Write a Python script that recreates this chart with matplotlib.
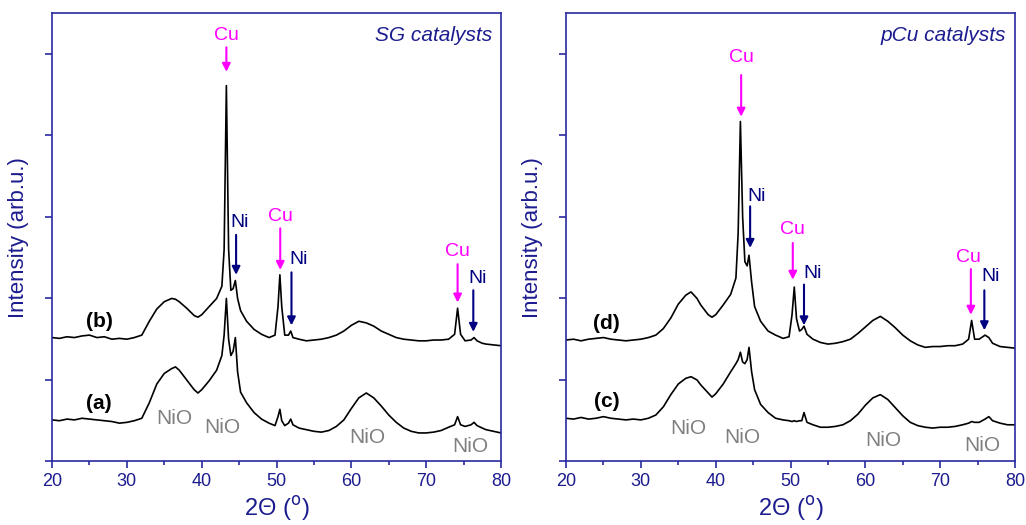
import numpy as np
import matplotlib
matplotlib.use("Agg")
import matplotlib.pyplot as plt

plt.rcParams["font.family"] = ["Liberation Sans", "DejaVu Sans"]

NAVY = "#1c1c8f"
SPINE = "#2a2aa0"
MAGENTA = "#ff00ff"
NI_COL = "#000080"
GRAY = "#808080"

# --- SG catalysts ---
x_sg = [20, 21, 22, 23, 24, 25, 26, 27, 28, 29, 30, 31, 32, 33, 34, 35, 36, 36.5, 37, 38, 39,
        39.5, 40, 41, 42, 42.7, 43.0, 43.3, 43.6, 43.9, 44.2, 44.5, 44.8, 45.2, 46, 47, 48, 49,
        49.8, 50.2, 50.45, 50.7, 51.1, 51.6, 51.9, 52.2, 53, 54, 55, 56, 57, 58, 59, 60, 61, 62,
        63, 64, 65, 66, 67, 68, 69, 70, 71, 72, 73, 73.8, 74.2, 74.6, 75.2, 76, 76.4, 76.8, 77.5,
        78, 79, 80]
sg_b = [1.52, 1.51, 1.53, 1.52, 1.54, 1.55, 1.52, 1.53, 1.50, 1.51, 1.50, 1.52, 1.55, 1.72, 1.87,
        1.96, 2.00, 1.99, 1.96, 1.88, 1.79, 1.77, 1.80, 1.90, 2.00, 2.15, 2.60, 4.61, 2.60, 2.10,
        2.12, 2.22, 2.00, 1.85, 1.72, 1.62, 1.56, 1.52, 1.55, 1.90, 2.29, 1.90, 1.55, 1.55, 1.60,
        1.52, 1.50, 1.48, 1.49, 1.50, 1.52, 1.55, 1.60, 1.67, 1.72, 1.70, 1.66, 1.60, 1.56, 1.52,
        1.50, 1.49, 1.48, 1.48, 1.49, 1.49, 1.50, 1.56, 1.88, 1.56, 1.48, 1.49, 1.52, 1.48, 1.45,
        1.44, 1.43, 1.42]
sg_a = [0.51, 0.50, 0.52, 0.51, 0.53, 0.52, 0.51, 0.50, 0.49, 0.47, 0.48, 0.50, 0.53, 0.72, 0.95,
        1.08, 1.14, 1.16, 1.12, 1.00, 0.88, 0.84, 0.88, 0.99, 1.12, 1.30, 1.55, 2.00, 1.50, 1.30,
        1.35, 1.52, 1.10, 0.85, 0.72, 0.60, 0.52, 0.47, 0.44, 0.55, 0.64, 0.50, 0.44, 0.47, 0.52,
        0.45, 0.41, 0.39, 0.37, 0.36, 0.38, 0.43, 0.51, 0.65, 0.78, 0.84, 0.78, 0.68, 0.57, 0.48,
        0.41, 0.37, 0.35, 0.35, 0.36, 0.38, 0.42, 0.45, 0.55, 0.45, 0.43, 0.45, 0.48, 0.44, 0.41,
        0.39, 0.37, 0.35]

# --- pCu catalysts ---
x_pcu = [20, 21, 22, 23, 24, 25, 26, 27, 28, 29, 30, 31, 32, 33, 34, 35, 36, 36.7, 37.5, 38, 39,
         39.5, 40, 41, 42, 42.7, 43.0, 43.3, 43.6, 43.9, 44.2, 44.45, 44.8, 45.2, 46, 47, 48, 49,
         49.8, 50.2, 50.5, 50.8, 51.2, 51.5, 51.8, 52.2, 53, 54, 55, 56, 57, 58, 59, 60, 61, 62,
         63, 64, 65, 66, 67, 68, 69, 70, 71, 72, 73, 73.8, 74.2, 74.6, 75.2, 76, 76.5, 77, 78, 79, 80]
pcu_d = [1.49, 1.50, 1.48, 1.50, 1.51, 1.52, 1.50, 1.49, 1.48, 1.49, 1.50, 1.52, 1.55, 1.63, 1.76,
         1.93, 2.04, 2.08, 2.00, 1.92, 1.80, 1.77, 1.80, 1.92, 2.05, 2.25, 2.80, 4.17, 3.00, 2.45,
         2.40, 2.53, 2.20, 1.90, 1.72, 1.60, 1.55, 1.51, 1.53, 1.80, 2.14, 1.75, 1.60, 1.62, 1.66,
         1.56, 1.50, 1.46, 1.44, 1.45, 1.47, 1.50, 1.57, 1.65, 1.73, 1.78, 1.72, 1.64, 1.55, 1.48,
         1.43, 1.40, 1.41, 1.41, 1.42, 1.42, 1.44, 1.50, 1.73, 1.50, 1.50, 1.55, 1.52, 1.45, 1.41,
         1.40, 1.39]
pcu_c = [0.53, 0.52, 0.54, 0.52, 0.53, 0.55, 0.53, 0.52, 0.51, 0.52, 0.51, 0.53, 0.57, 0.67, 0.82,
         0.95, 1.02, 1.04, 1.00, 0.94, 0.84, 0.79, 0.83, 0.95, 1.10, 1.20, 1.25, 1.34, 1.22, 1.20,
         1.25, 1.40, 1.10, 0.88, 0.70, 0.60, 0.53, 0.51, 0.50, 0.49, 0.50, 0.49, 0.50, 0.50, 0.60,
         0.48, 0.45, 0.42, 0.42, 0.43, 0.45, 0.50, 0.58, 0.69, 0.78, 0.82, 0.76, 0.66, 0.56, 0.48,
         0.44, 0.42, 0.41, 0.42, 0.42, 0.43, 0.45, 0.47, 0.49, 0.48, 0.48, 0.52, 0.55, 0.50, 0.47,
         0.45, 0.45]

# arrows: (label, x, text_y, tail_y, head_y, text_dx)
arrows_sg = [("Cu", 43.3, 5.23, 5.08, 4.78, 0.0),
             ("Ni", 44.6, 2.93, 2.78, 2.29, 0.5),
             ("Cu", 50.5, 3.00, 2.86, 2.35, 0.0),
             ("Ni", 52.0, 2.48, 2.32, 1.67, 0.9),
             ("Cu", 74.2, 2.57, 2.42, 1.95, 0.0),
             ("Ni", 76.3, 2.25, 2.10, 1.59, 0.6)]
arrows_pcu = [("Cu", 43.4, 4.96, 4.74, 4.23, 0.0),
              ("Ni", 44.6, 3.25, 3.13, 2.62, 0.9),
              ("Cu", 50.3, 2.84, 2.68, 2.23, 0.0),
              ("Ni", 51.8, 2.31, 2.17, 1.67, 1.1),
              ("Cu", 74.1, 2.50, 2.36, 1.80, -0.3),
              ("Ni", 75.9, 2.27, 2.10, 1.61, 0.8)]

nio_sg = [(36.4, 0.53), (42.8, 0.42), (62.2, 0.29), (75.9, 0.18)]
nio_pcu = [(36.3, 0.41), (43.5, 0.30), (62.4, 0.26), (75.6, 0.20)]

fig = plt.figure(figsize=(10.26, 5.25), dpi=100)
ax1 = fig.add_axes([0.0507, 0.121, 0.4376, 0.854])
ax2 = fig.add_axes([0.5517, 0.121, 0.4376, 0.854])


def setup(ax):
    ax.set_xlim(20, 80)
    ax.set_ylim(0, 5.5)
    ax.set_xticks(np.arange(20, 81, 10))
    ax.set_xticks(np.arange(25, 80, 10), minor=True)
    ax.set_yticks(np.arange(0, 6, 1))
    ax.set_yticklabels([])
    for s in ax.spines.values():
        s.set_color(SPINE)
        s.set_linewidth(1.2)
    ax.tick_params(which="both", direction="out", colors=SPINE, labelcolor=NAVY,
                   labelsize=13, width=1.2)
    ax.tick_params(which="major", length=5)
    ax.tick_params(which="minor", length=3)
    ax.set_xlabel("2\u0398 ($^{\\rm o}$)", color=NAVY, fontsize=17, labelpad=3)
    ax.set_ylabel("Intensity (arb.u.)", color=NAVY, fontsize=16, labelpad=8)


def draw(ax, x, top, bot, lab_top, lab_bot, arrows, nio, title, lab_x):
    setup(ax)
    ax.plot(x, top, color="black", lw=1.2)
    ax.plot(x, bot, color="black", lw=1.2)
    ax.text(lab_x, top[0] + 0.2, lab_top, fontsize=15, fontweight="bold", ha="center", va="center")
    ax.text(lab_x, bot[0] + 0.2, lab_bot, fontsize=15, fontweight="bold", ha="center", va="center")
    for name, xa, ty, tail, head, dx in arrows:
        col = MAGENTA if name == "Cu" else NI_COL
        ax.annotate("", xy=(xa, head), xytext=(xa, tail),
                    arrowprops=dict(arrowstyle="-|>", color=col, lw=1.5, mutation_scale=12,
                                    shrinkA=0, shrinkB=0))
        ax.text(xa + dx, ty, name, color=col, fontsize=14, ha="center", va="center")
    for xn, yn in nio:
        ax.text(xn, yn, "NiO", color=GRAY, fontsize=15, ha="center", va="center")
    ax.text(78.8, 5.22, title, color=NAVY, fontsize=15, style="italic", ha="right", va="center")


draw(ax1, x_sg, sg_b, sg_a, "(b)", "(a)", arrows_sg, nio_sg, "SG catalysts", 26.3)
draw(ax2, x_pcu, pcu_d, pcu_c, "(d)", "(c)", arrows_pcu, nio_pcu, "pCu catalysts", 25.4)

fig.savefig("out.png", dpi=100)
